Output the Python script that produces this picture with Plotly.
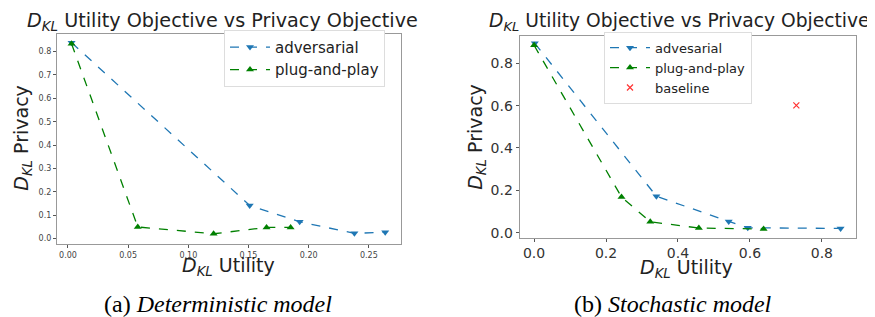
import plotly.graph_objects as go

# Deterministic model (left)
det_adv_x = [0.003, 0.151, 0.1925, 0.238, 0.2636]
det_adv_y = [0.838, 0.142, 0.072, 0.023, 0.027]
det_pnp_x = [0.003, 0.058, 0.121, 0.165, 0.185]
det_pnp_y = [0.833, 0.050, 0.021, 0.048, 0.048]

# Stochastic model (right)
sto_adv_x = [0.002, 0.340, 0.541, 0.594, 0.852]
sto_adv_y = [0.894, 0.172, 0.053, 0.023, 0.020]
sto_pnp_x = [0.000, 0.243, 0.323, 0.458, 0.638]
sto_pnp_y = [0.885, 0.168, 0.051, 0.022, 0.017]
sto_base_x = [0.729]
sto_base_y = [0.601]

left_xticks = [0.00, 0.05, 0.10, 0.15, 0.20, 0.25]
left_yticks = [0.0, 0.1, 0.2, 0.3, 0.4, 0.5, 0.6, 0.7, 0.8]
right_xticks = [0.0, 0.2, 0.4, 0.6, 0.8]
right_yticks = [0.0, 0.2, 0.4, 0.6, 0.8]

BLUE = "#1f77b4"
GREEN = "#008000"
RED = "#ff3333"
DKL = "<i>D</i><sub><i>KL</i></sub>"
FONT = "DejaVu Sans"

fig = go.Figure()
fig.add_trace(go.Scatter(x=det_adv_x, y=det_adv_y, mode="lines+markers", name="adversarial",
                         line=dict(color=BLUE, dash="dash", width=1.3),
                         marker=dict(symbol="triangle-down", size=7, color=BLUE),
                         xaxis="x", yaxis="y", legend="legend"))
fig.add_trace(go.Scatter(x=det_pnp_x, y=det_pnp_y, mode="lines+markers", name="plug-and-play",
                         line=dict(color=GREEN, dash="dash", width=1.3),
                         marker=dict(symbol="triangle-up", size=7, color=GREEN),
                         xaxis="x", yaxis="y", legend="legend"))
fig.add_trace(go.Scatter(x=sto_adv_x, y=sto_adv_y, mode="lines+markers", name="advesarial",
                         line=dict(color=BLUE, dash="dash", width=1.3),
                         marker=dict(symbol="triangle-down", size=7, color=BLUE),
                         xaxis="x2", yaxis="y2", legend="legend2"))
fig.add_trace(go.Scatter(x=sto_pnp_x, y=sto_pnp_y, mode="lines+markers", name="plug-and-play",
                         line=dict(color=GREEN, dash="dash", width=1.3),
                         marker=dict(symbol="triangle-up", size=7, color=GREEN),
                         xaxis="x2", yaxis="y2", legend="legend2"))
fig.add_trace(go.Scatter(x=sto_base_x, y=sto_base_y, mode="markers", name="baseline",
                         marker=dict(symbol="x-thin", size=6, color=RED, line=dict(color=RED, width=1.2)),
                         xaxis="x2", yaxis="y2", legend="legend2"))

axcommon = dict(showgrid=False, zeroline=False, showline=True, mirror=True,
                linecolor="#999999", linewidth=1.2, ticks="outside", ticklen=3,
                tickcolor="#555555")


def ann(text, x, y, size, angle=0, family=None, color="#222222", xanchor="center"):
    f = dict(size=size, color=color)
    if family:
        f["family"] = family
    return dict(text=text, x=x / 875, y=1 - y / 317, xref="paper", yref="paper",
                showarrow=False, font=f, xanchor=xanchor, yanchor="middle",
                textangle=angle)


fig.update_layout(
    width=875, height=317,
    margin=dict(l=0, r=0, t=0, b=0),
    paper_bgcolor="white", plot_bgcolor="white",
    font=dict(family=FONT, color="#222222"),
    xaxis=dict(domain=[0.056, 0.449], range=[-0.0091, 0.2766], anchor="y",
               tickvals=left_xticks, ticktext=[f"{v:.2f}" for v in left_xticks],
               tickfont=dict(size=8, color="#444444"), **axcommon),
    yaxis=dict(domain=[0.249, 0.918], range=[-0.022, 0.876], anchor="x",
               tickvals=left_yticks, ticktext=[f"{v:.1f}" for v in left_yticks],
               tickfont=dict(size=8, color="#444444"), **axcommon),
    xaxis2=dict(domain=[0.5848, 0.9688], range=[-0.04, 0.894], anchor="y2",
                tickvals=right_xticks, ticktext=[f"{v:.1f}" for v in right_xticks],
                tickfont=dict(size=14, color="#333333"), **axcommon),
    yaxis2=dict(domain=[0.269, 0.9117], range=[-0.023, 0.93], anchor="x2",
                tickvals=right_yticks, ticktext=[f"{v:.1f}" for v in right_yticks],
                tickfont=dict(size=14, color="#333333"), **axcommon),
    legend=dict(x=216/875, xanchor="left", y=1 - 22/317, yanchor="top",
                bgcolor="white", bordercolor="#dddddd", borderwidth=1,
                font=dict(size=15), itemwidth=40, tracegroupgap=0),
    legend2=dict(x=596/875, xanchor="left", y=1 - 24/317, yanchor="top",
                 bgcolor="white", bordercolor="#dddddd", borderwidth=1,
                 font=dict(size=13), itemwidth=40, tracegroupgap=0),
    annotations=[
        ann(DKL + " Utility Objective vs Privacy Objective", 214, 14, 19.2),
        ann(DKL + " Utility Objective vs Privacy Objective", 671, 14, 18.7),
        ann(DKL + " Utility", 220, 261, 19),
        ann(DKL + " Utility", 678, 263, 19),
        ann(DKL + " Privacy", 15, 131, 19, angle=-90),
        ann(DKL + " Privacy", 469, 130, 19, angle=-90),
        ann("(a) <i>Deterministic model</i>", 210, 299, 24, family="Liberation Serif", color="#000000"),
        ann("(b) <i>Stochastic model</i>", 665, 299, 24, family="Liberation Serif", color="#000000"),
    ],
)

fig.write_html("out.html")
